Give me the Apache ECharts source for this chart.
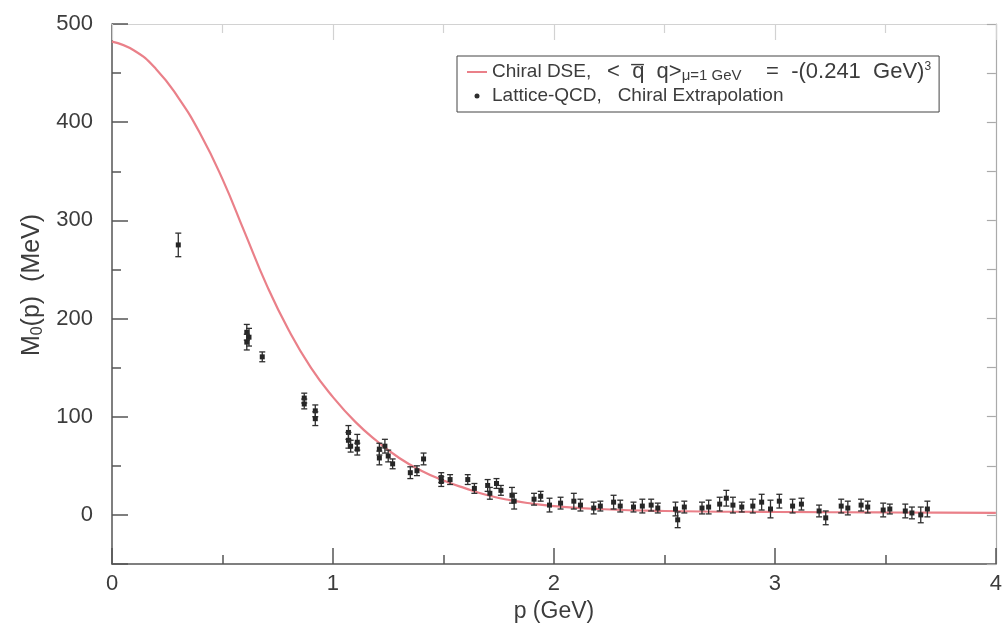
<!DOCTYPE html>
<html>
<head>
<meta charset="utf-8">
<script src="https://cdn.jsdelivr.net/npm/echarts@6/dist/echarts.min.js"></script>
<style>
  html, body { margin: 0; padding: 0; background: #fff; }
  #chart { width: 1005px; height: 631px; }
</style>
</head>
<body>
<div id="chart"></div>
<script>
// Chiral DSE mass function (red curve)
const dseMomentum = [0, 0.1, 0.2, 0.3, 0.4, 0.5, 0.6, 0.7, 0.8, 0.9, 1.0, 1.1, 1.2, 1.3, 1.4, 1.5, 1.6, 1.7, 1.8, 1.9, 2.0, 2.2, 2.5, 3.0, 3.5, 4.0];
const dseMass = [482, 473, 454, 425, 388, 342, 288, 234, 188, 150, 120, 95, 75, 58, 45, 35, 27, 20, 15, 11.5, 9, 6, 4, 3, 2.5, 2];

// Lattice-QCD chiral extrapolation points
const latticeMomentum = [0.30, 0.61, 0.61, 0.62, 0.68, 0.87, 0.87, 0.92, 0.92, 1.07, 1.07, 1.08, 1.11, 1.11, 1.21, 1.21, 1.235, 1.25, 1.27, 1.35, 1.38, 1.41, 1.49, 1.49, 1.53, 1.61, 1.64, 1.70, 1.71, 1.74, 1.76, 1.81, 1.82, 1.91, 1.94, 1.98, 2.03, 2.09, 2.12, 2.18, 2.21, 2.27, 2.30, 2.36, 2.40, 2.44, 2.47, 2.55, 2.56, 2.59, 2.67, 2.70, 2.75, 2.78, 2.81, 2.85, 2.90, 2.94, 2.98, 3.02, 3.08, 3.12, 3.20, 3.23, 3.30, 3.33, 3.39, 3.42, 3.49, 3.52, 3.59, 3.62, 3.66, 3.69];
const latticeMass = [275, 186, 176, 181, 161, 119, 113, 106, 98, 84, 76, 70, 74, 67, 67, 58, 70, 60, 52, 43, 45, 57, 38, 34, 36, 36, 27, 30, 22, 32, 25, 20, 14, 16, 19, 10, 12, 14, 10, 7, 9, 13, 9, 8, 9, 10, 7, 6, -5, 8, 7, 8, 11, 17, 10, 8, 9, 13, 6, 14, 9, 11, 4, -3, 9, 7, 10, 8, 5, 6, 4, 2, 0, 6];
const latticeErr = [12, 8, 8, 9, 5, 5, 5, 6, 7, 7, 8, 6, 8, 6, 6, 7, 7, 6, 5, 6, 5, 6, 5, 5, 5, 5, 5, 6, 6, 5, 5, 8, 8, 6, 5, 7, 6, 8, 6, 6, 5, 7, 6, 5, 7, 6, 5, 7, 8, 6, 6, 7, 7, 8, 8, 5, 7, 8, 9, 7, 7, 6, 6, 7, 7, 7, 6, 6, 7, 5, 7, 6, 8, 8];

const xTicks = [0, 1, 2, 3, 4];
const yTicks = [0, 100, 200, 300, 400, 500];

const font = '"Liberation Sans", Arial, sans-serif';
const axisColor = '#555';
const textColor = '#3c3c3c';
const frameColor = '#d2d2d2';

const chart = echarts.init(document.getElementById('chart'));

const dseData = dseMomentum.map((p, i) => [p, dseMass[i]]);
const latticeData = latticeMomentum.map((p, i) => [p, latticeMass[i], latticeErr[i]]);

const renderErrorPoint = (params, api) => {
  const x = api.value(0);
  const y = api.value(1);
  const e = api.value(2);
  const hi = api.coord([x, y + e]);
  const lo = api.coord([x, y - e]);
  const c = api.coord([x, y]);
  const cap = 3;
  const stroke = { stroke: '#2e2e2e', lineWidth: 1.3 };
  return {
    type: 'group',
    children: [
      { type: 'line', shape: { x1: hi[0], y1: hi[1], x2: lo[0], y2: lo[1] }, style: stroke },
      { type: 'line', shape: { x1: hi[0] - cap, y1: hi[1], x2: hi[0] + cap, y2: hi[1] }, style: stroke },
      { type: 'line', shape: { x1: lo[0] - cap, y1: lo[1], x2: lo[0] + cap, y2: lo[1] }, style: stroke },
      { type: 'rect', shape: { x: c[0] - 2.5, y: c[1] - 2.5, width: 5, height: 5 }, style: { fill: '#262626' } }
    ]
  };
};

const option = {
  animation: false,
  backgroundColor: '#fff',
  grid: { left: 112, right: 2, top: 24, bottom: 67, containLabel: false },
  legend: {
    orient: 'vertical',
    left: 457,
    top: 56,
    padding: [5, 8, 5, 10],
    itemGap: 2,
    itemWidth: 20,
    itemHeight: 5,
    symbolKeepAspect: true,
    borderColor: '#444',
    borderWidth: 1,
    backgroundColor: '#fff',
    data: [
      { name: 'dse', icon: 'path://M0,0H20V2H0Z', itemStyle: { color: '#ea8089' } },
      { name: 'lattice', icon: 'circle', itemStyle: { color: '#2e2e2e' } }
    ],
    formatter: name => name === 'dse'
      ? 'Chiral DSE,   {f|<  q\u0305  q>}{sub|\u03bc=1 GeV}{f|    =  -(0.241  GeV)}{sup|3}'
      : 'Lattice-QCD,   Chiral Extrapolation',
    textStyle: {
      fontFamily: font,
      fontSize: 19,
      color: textColor,
      lineHeight: 22,
      rich: {
        f: { fontFamily: font, fontSize: 22, color: textColor, lineHeight: 22 },
        sub: { fontFamily: font, fontSize: 15, color: textColor, lineHeight: 12, verticalAlign: 'bottom' },
        sup: { fontFamily: font, fontSize: 12, color: textColor, lineHeight: 11, verticalAlign: 'top' }
      }
    }
  },
  xAxis: [
    {
      type: 'value',
      min: 0,
      max: 4,
      interval: 1,
      position: 'bottom',
      name: 'p (GeV)',
      nameLocation: 'middle',
      nameGap: 32,
      nameTextStyle: { fontFamily: font, fontSize: 23, color: textColor },
      axisLine: { show: true, onZero: false, lineStyle: { color: axisColor, width: 1.5 } },
      axisTick: { show: true, inside: true, length: 16, lineStyle: { color: axisColor, width: 1.5 } },
      minorTick: { show: true, splitNumber: 2, length: 9, lineStyle: { color: axisColor, width: 1.5 } },
      axisLabel: {
        fontFamily: font, fontSize: 22, color: textColor, margin: 9,
        formatter: v => (xTicks.includes(v) ? String(v) : '')
      },
      splitLine: { show: false }
    },
    {
      type: 'value',
      min: 0,
      max: 4,
      interval: 1,
      position: 'top',
      axisLine: { show: true, onZero: false, lineStyle: { color: frameColor, width: 1.2 } },
      axisTick: { show: true, inside: true, length: 16, lineStyle: { color: frameColor, width: 1.2 } },
      minorTick: { show: true, splitNumber: 2, length: 9, lineStyle: { color: frameColor, width: 1.2 } },
      axisLabel: { show: false },
      splitLine: { show: false }
    }
  ],
  yAxis: [
    {
      type: 'value',
      min: -50,
      max: 500,
      splitNumber: 5,
      position: 'left',
      name: 'M{sub|0}(p)  (MeV)',
      nameLocation: 'middle',
      nameGap: 66,
      nameTextStyle: {
        fontFamily: font, fontSize: 25, color: textColor,
        padding: [0, 0, 0, 18],
        rich: { sub: { fontFamily: font, fontSize: 16, color: textColor, padding: [0, 0, -10, 0] } }
      },
      axisLine: { show: true, onZero: false, lineStyle: { color: axisColor, width: 1.5 } },
      axisTick: { show: true, inside: true, length: 16, lineStyle: { color: axisColor, width: 1.5 } },
      axisLabel: {
        fontFamily: font, fontSize: 22, color: textColor, margin: 19,
        formatter: v => (yTicks.includes(v) ? String(v) : '')
      },
      splitLine: { show: false }
    },
    {
      // minor ticks every 50
      type: 'value',
      min: -50,
      max: 500,
      interval: 50,
      position: 'left',
      axisLine: { show: false, onZero: false },
      axisTick: { show: true, inside: true, length: 9, lineStyle: { color: axisColor, width: 1.5 } },
      axisLabel: { show: false },
      splitLine: { show: false }
    },
    {
      type: 'value',
      min: -50,
      max: 500,
      interval: 50,
      position: 'right',
      axisLine: { show: true, onZero: false, lineStyle: { color: '#aaa', width: 1.2 } },
      axisTick: { show: true, inside: true, length: 9, lineStyle: { color: '#aaa', width: 1.2 } },
      axisLabel: { show: false },
      splitLine: { show: false }
    }
  ],
  series: [
    {
      name: 'dse',
      type: 'line',
      data: dseData,
      smooth: 0.5,
      symbol: 'none',
      lineStyle: { color: '#ea8089', width: 2.2 },
      itemStyle: { color: '#ea8089' },
      z: 2
    },
    {
      name: 'lattice',
      type: 'custom',
      data: latticeData,
      encode: { x: 0, y: 1 },
      renderItem: renderErrorPoint,
      itemStyle: { color: '#2e2e2e' },
      z: 3
    }
  ]
};

chart.setOption(option);
</script>
</body>
</html>
